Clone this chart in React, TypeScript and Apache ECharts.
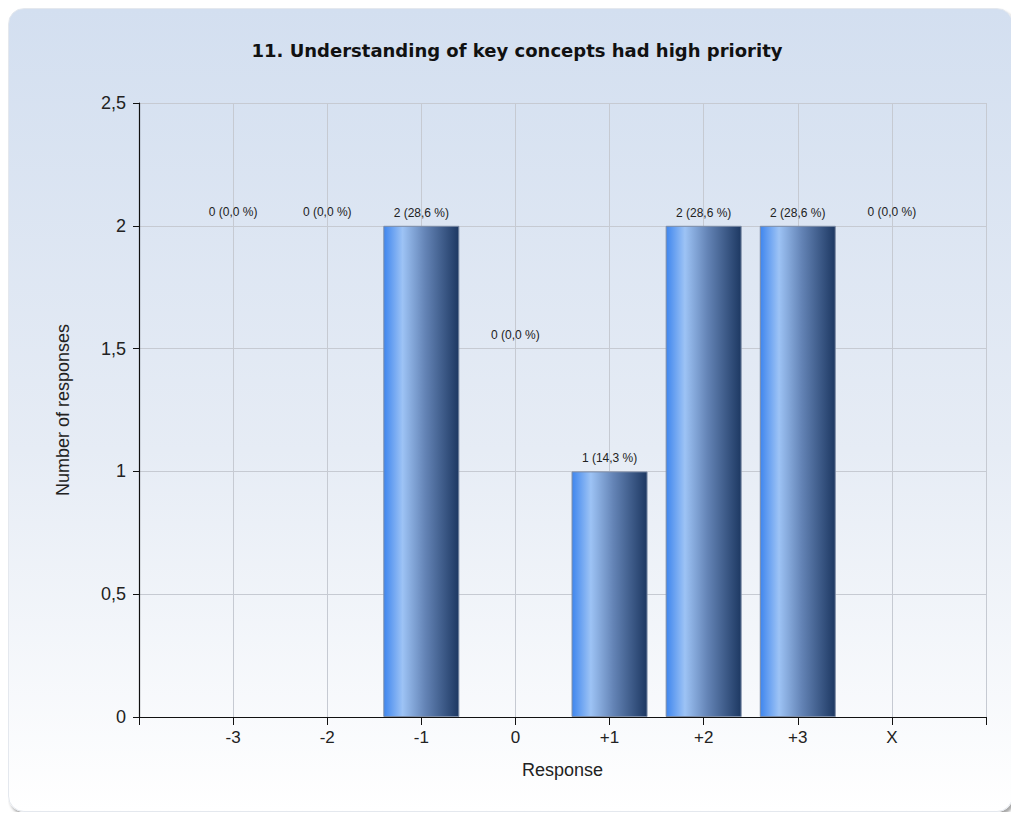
import React, { useEffect, useRef } from "react";
import * as echarts from "echarts";

// Response scale and counts
const categories = ["-3", "-2", "-1", "0", "+1", "+2", "+3", "X"];
const counts = [0, 0, 2, 0, 1, 2, 2, 0];
// Height at which the label of an empty column is anchored
const emptyLabelAnchor = [2, 2, null, 1.5, null, null, null, 2];
const yTicks = [0, 0.5, 1, 1.5, 2, 2.5];

const total = counts.reduce((a, b) => a + b, 0);
const labelText = (i: number) =>
  `${counts[i]} (${((counts[i] / total) * 100).toFixed(1).replace(".", ",")} %)`;

const barGradient = new echarts.graphic.LinearGradient(0, 0, 1, 0, [
  { offset: 0, color: "#3f86ee" },
  { offset: 0.25, color: "#9dc3f5" },
  { offset: 0.55, color: "#6484b6" },
  { offset: 1, color: "#1d3862" },
]);

const SANS = "Liberation Sans, Arial, sans-serif";

export default function App() {
  const ref = useRef<HTMLDivElement>(null);

  useEffect(() => {
    if (!ref.current) return;
    const chart = echarts.init(ref.current, null, { renderer: "svg" });

    const barData = counts
      .map((c, i) => ({ i, c }))
      .filter((d) => d.c > 0)
      .map((d) => ({ value: [d.i + 1, d.c], idx: d.i }));

    const emptyData = emptyLabelAnchor
      .map((a, i) => ({ a, i }))
      .filter((d) => d.a !== null && counts[d.i] === 0)
      .map((d) => ({ value: [d.i + 1, d.a as number], idx: d.i }));

    const labelStyle = {
      show: true,
      position: "top" as const,
      distance: 7,
      fontFamily: SANS,
      fontSize: 12,
      color: "#222",
      opacity: 1,
      textBorderWidth: 0,
      formatter: (p: any) => labelText(p.data.idx),
    };

    chart.setOption({
      animation: false,
      backgroundColor: "transparent",
      title: {
        text: "11. Understanding of key concepts had high priority",
        left: 503,
        top: 27,
        textAlign: "center",
        textStyle: {
          fontFamily: "DejaVu Sans, Verdana, sans-serif",
          fontWeight: "bold",
          fontSize: 18,
          color: "#111",
        },
      },
      grid: { left: 130, top: 94, right: 28, bottom: 96, containLabel: false },
      xAxis: {
        type: "value",
        min: 0,
        max: categories.length + 1,
        interval: 1,
        name: "Response",
        nameLocation: "middle",
        nameGap: 44,
        nameTextStyle: { fontFamily: SANS, fontSize: 18, color: "#222" },
        axisLine: { show: true, lineStyle: { color: "#111", width: 1.2 } },
        axisTick: { show: true, length: 8, lineStyle: { color: "#111" } },
        axisLabel: {
          margin: 12,
          fontFamily: SANS,
          fontSize: 17,
          color: "#222",
          formatter: (v: number) =>
            v >= 1 && v <= categories.length ? categories[v - 1] : "",
        },
        splitLine: { show: true, lineStyle: { color: "#c6cad2", width: 1 } },
      },
      yAxis: {
        type: "value",
        min: yTicks[0],
        max: yTicks[yTicks.length - 1],
        interval: 0.5,
        name: "Number of responses",
        nameLocation: "middle",
        nameGap: 67,
        nameRotate: 90,
        nameTextStyle: { fontFamily: SANS, fontSize: 18, color: "#222" },
        axisLine: { show: true, lineStyle: { color: "#111", width: 1.2 } },
        axisTick: { show: true, length: 6, lineStyle: { color: "#111" } },
        axisLabel: {
          margin: 13,
          fontFamily: SANS,
          fontSize: 18,
          color: "#222",
          formatter: (v: number) => String(v).replace(".", ","),
        },
        splitLine: { show: true, lineStyle: { color: "#c6cad2", width: 1 } },
      },
      series: [
        {
          type: "bar",
          data: barData,
          barWidth: 76,
          itemStyle: {
            color: barGradient,
            borderColor: "#7d8ca6",
            borderWidth: 1,
          },
          label: labelStyle,
          z: 3,
        },
        {
          type: "scatter",
          data: emptyData,
          symbol: "rect",
          symbolSize: 1,
          itemStyle: { color: "rgba(0,0,0,0)", opacity: 1 },
          label: labelStyle,
          z: 4,
        },
      ],
    });

    return () => chart.dispose();
  }, []);

  return (
    <div
      style={{
        width: 1005,
        height: 804,
        borderRadius: 16,
        background: "linear-gradient(to bottom, #d3dff0 0%, #e6ecf5 55%, #ffffff 100%)",
        boxShadow: "2px 3px 3px rgba(0,0,0,0.35)",
        border: "1px solid #e4e8ee",
        boxSizing: "border-box",
        overflow: "hidden",
      }}
    >
      <div ref={ref} style={{ width: 1005, height: 804 }} />
    </div>
  );
}
